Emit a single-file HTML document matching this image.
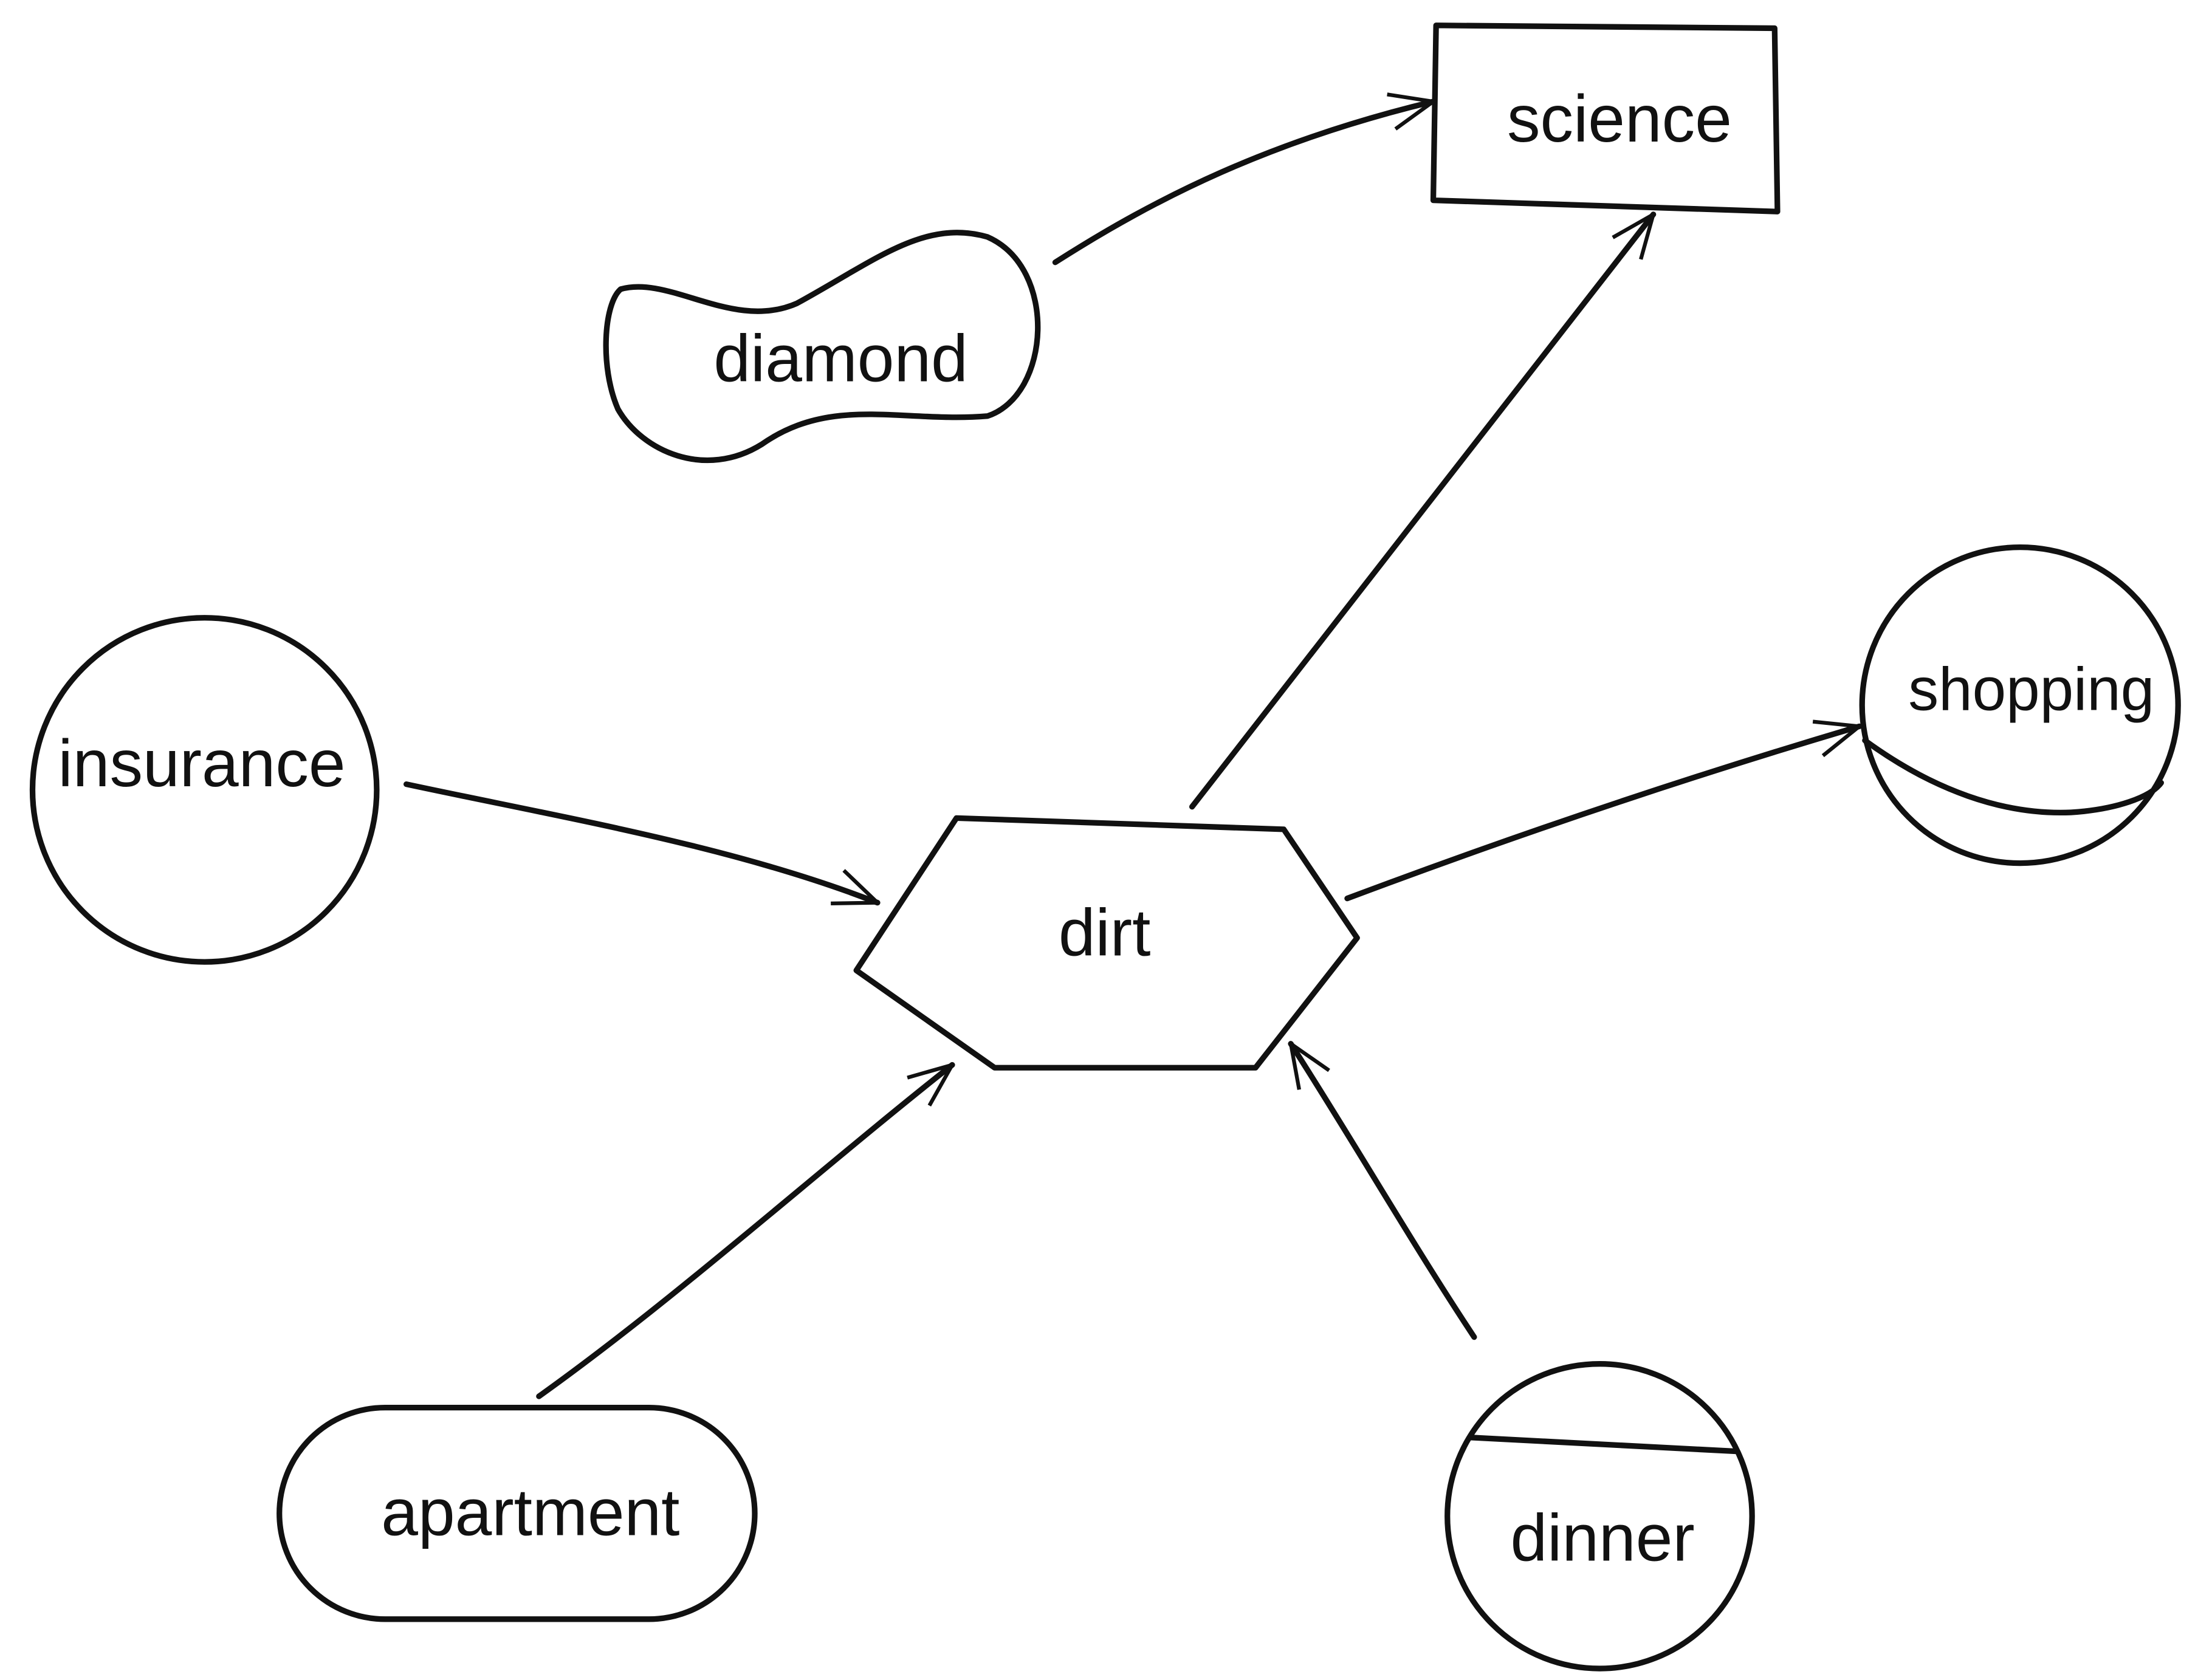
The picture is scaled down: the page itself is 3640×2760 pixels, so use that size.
<!DOCTYPE html>
<html><head><meta charset="utf-8"><style>
html,body{margin:0;padding:0;background:#fff;}
svg{display:block;}
text{font-family:"Liberation Sans",sans-serif;font-size:47px;fill:#111;text-anchor:middle;dominant-baseline:middle;}
</style></head><body>
<svg width="3640" height="2760" viewBox="0 0 1568 1189" xmlns="http://www.w3.org/2000/svg">
<defs>
<marker id="a" viewBox="0 0 40 40" refX="38" refY="20" markerWidth="36" markerHeight="36" markerUnits="userSpaceOnUse" orient="auto">
<path d="M4,6 L38,20 L4,34" fill="none" stroke="#111" stroke-width="3"/>
</marker>
<clipPath id="dc"><circle cx="1134" cy="1075" r="108"/></clipPath>
</defs>
<g fill="none" stroke="#111" stroke-width="4" stroke-linecap="round" stroke-linejoin="round">
<path d="M1018,18 L1258,20 L1260,150 L1016,142 Z"/>
<path d="M440,205 C475,195 520,235 565,215 C620,185 655,155 700,168 C750,190 745,280 700,295 C640,300 590,280 540,315 C500,340 455,320 438,290 C425,260 428,215 440,205 Z"/>
<circle cx="145" cy="560" r="122"/>
<circle cx="1432" cy="500" r="112"/>
<path d="M1322,525 C1370,560 1420,578 1468,576 C1500,574 1525,565 1532,555"/>
<path d="M678,580 L910,588 L962,665 L890,757 L705,757 L607,688 Z"/>
<rect x="198" y="998" width="337" height="150" rx="75"/>
<circle cx="1134" cy="1075" r="108"/>
<path d="M1020,1018 L1250,1030" clip-path="url(#dc)"/>
<path d="M748,186 C820,140 900,100 1016,72" marker-end="url(#a)"/>
<path d="M845,572 L1010,360 L1172,152" marker-end="url(#a)"/>
<path d="M288,556 C400,580 520,600 622,640" marker-end="url(#a)"/>
<path d="M955,637 C1080,590 1200,550 1318,515" marker-end="url(#a)"/>
<path d="M382,990 C480,920 580,830 675,755" marker-end="url(#a)"/>
<path d="M1045,948 C1000,880 960,810 915,740" marker-end="url(#a)"/>
</g>
<text x="1148" y="88">science</text>
<text x="596" y="258">diamond</text>
<text x="143" y="545">insurance</text>
<text x="1440" y="492" style="font-size:43px">shopping</text>
<text x="783" y="665">dirt</text>
<text x="376" y="1076">apartment</text>
<text x="1136" y="1094">dinner</text>
</svg>
</body></html>
